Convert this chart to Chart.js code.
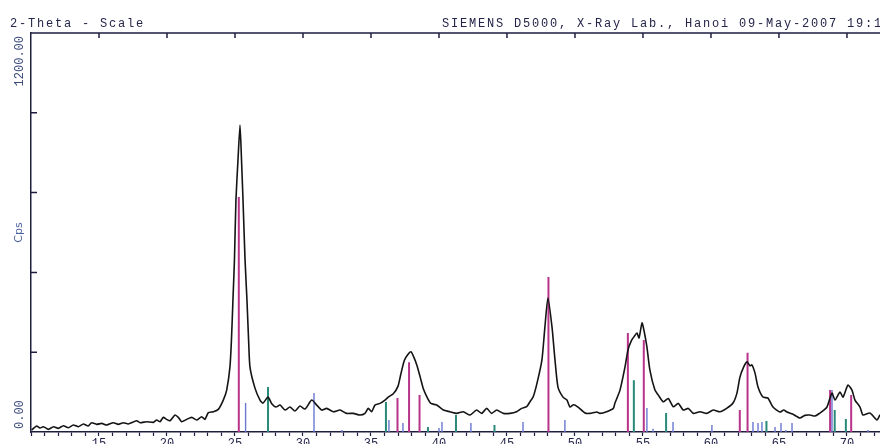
<!DOCTYPE html>
<html>
<head>
<meta charset="utf-8">
<script src="https://cdn.jsdelivr.net/npm/chart.js@4"></script>
<style>
  html, body { margin: 0; padding: 0; background: #fff; overflow: hidden; }
  canvas { display: block; }
</style>
</head>
<body>
<canvas id="chart" width="880" height="444"></canvas>
<script>
// measured pattern (2-theta in degrees, counts per second)
const twoTheta = [
  10.05, 10.42, 10.66, 10.91, 11.28, 11.65, 12.01, 12.38, 12.75, 13.11, 13.48, 13.85, 14.21, 14.46, 14.83,
  15.20, 15.57, 16.05, 16.42, 16.79, 17.15, 17.52, 17.77, 18.02, 18.51, 19.00, 19.24, 19.49, 19.73, 19.97,
  20.22, 20.59, 20.83, 21.08, 21.45, 21.82, 22.18, 22.55, 22.79, 23.04, 23.41, 23.77, 24.14, 24.39, 24.63,
  24.74, 24.85, 24.96, 25.07, 25.22, 25.37, 25.48, 25.59, 25.74, 25.88, 26.00, 26.10, 26.47, 26.84, 27.06,
  27.43, 27.72, 28.01, 28.31, 28.68, 29.04, 29.41, 29.78, 30.15, 30.64, 31.01, 31.38, 31.74, 32.23, 32.72,
  33.21, 33.70, 34.19, 34.56, 34.80, 35.05, 35.29, 35.66, 36.03, 36.27, 36.64, 36.99, 37.20, 37.45, 37.70,
  37.94, 38.15, 38.38, 38.62, 38.85, 39.12, 39.40, 39.83, 40.32, 40.81, 41.30, 41.79, 42.28, 42.77, 43.14,
  43.51, 43.87, 44.24, 44.73, 45.22, 45.71, 46.08, 46.45, 46.69, 46.93, 47.21, 47.57, 47.79, 48.01, 48.31,
  48.53, 48.75, 49.12, 49.41, 49.63, 49.90, 50.22, 50.74, 51.10, 51.62, 51.84, 52.33, 52.82, 52.94, 53.31,
  53.68, 53.90, 54.15, 54.40, 54.56, 54.71, 54.93, 55.10, 55.29, 55.51, 55.88, 56.13, 56.49, 56.86, 57.23,
  57.60, 57.96, 58.33, 58.70, 59.19, 59.68, 60.17, 60.66, 61.15, 61.62, 61.91, 62.13, 62.40, 62.65, 62.87,
  63.01, 63.24, 63.46, 63.82, 64.19, 64.56, 65.07, 65.35, 65.59, 66.00, 66.54, 66.90, 67.28, 67.65, 68.01,
  68.30, 68.53, 68.90, 69.12, 69.49, 69.71, 70.07, 70.37, 70.59, 70.96, 71.18, 71.69, 72.21, 72.43, 72.60
]
const counts = [
  6, 18, 12, 16, 8, 16, 11, 19, 13, 21, 16, 24, 18, 28, 23,
  26, 21, 28, 23, 28, 24, 30, 34, 28, 31, 29, 36, 31, 44, 38,
  34, 51, 44, 31, 38, 44, 36, 46, 38, 58, 61, 68, 96, 126, 196,
  277, 397, 517, 698, 818, 923, 818, 698, 517, 397, 277, 196, 132, 96, 87,
  105, 84, 75, 81, 66, 75, 63, 78, 69, 96, 81, 66, 71, 61, 66,
  56, 56, 51, 56, 71, 61, 81, 86, 96, 105, 115, 138, 175, 215, 232,
  241, 225, 200, 165, 130, 105, 86, 81, 66, 61, 56, 61, 51, 66, 56,
  71, 56, 66, 56, 56, 61, 71, 76, 91, 106, 147, 217, 316, 403, 316,
  217, 135, 105, 96, 75, 82, 75, 57, 56, 60, 56, 61, 71, 87, 126,
  196, 247, 275, 290, 298, 283, 328, 300, 256, 186, 126, 111, 91, 101, 76,
  86, 66, 71, 56, 61, 56, 66, 61, 71, 87, 117, 165, 195, 211, 199,
  202, 177, 135, 105, 102, 75, 60, 66, 60, 54, 42, 50, 51, 48, 57,
  66, 75, 117, 96, 120, 105, 141, 126, 96, 75, 51, 57, 36, 51, 45
]

// reference stick patterns
const anataseAngle = [25.28, 36.95, 37.80, 38.57, 48.05, 53.89, 55.06, 62.12, 62.69, 68.76, 70.31]
const anataseCps = [707, 102, 210, 111, 466, 298, 277, 66, 238, 126, 111]
const rutileAngle = [27.43, 36.10, 39.19, 41.25, 44.08, 54.33, 56.70, 64.08, 69.10, 69.92]
const rutileCps = [135, 90, 15, 51, 21, 156, 57, 33, 66, 39]
const brookiteAngle = [25.78, 30.81, 32.87, 36.32, 37.35, 40.00, 40.22, 42.35, 46.18, 49.26, 55.29, 55.74,
  57.21, 60.07, 63.09, 63.46, 63.75, 64.71, 65.15, 65.51, 65.96, 68.90, 71.54]
const brookiteCps = [87, 117, 6, 36, 27, 12, 30, 27, 30, 36, 72, 10,
  30, 21, 30, 27, 30, 15, 27, 6, 27, 126, 6]

const xLabelTicks = [15, 20, 25, 30, 35, 40, 45, 50, 55, 60, 65, 70]
const topTicks = [15, 20, 25, 30, 35, 40, 45, 50, 55, 60, 65, 70]
const yTicks = [240, 480, 720, 960]
const headerLeft = '2-Theta - Scale'
const headerRight = 'SIEMENS D5000, X-Ray Lab., Hanoi 09-May-2007 19:16'
const yTopLabel = '1200.00'
const yBottomLabel = '0.00'

const axisColor = '#1e1e40'
const mono = '"Liberation Mono", "DejaVu Sans Mono", monospace'

function sticks(angles, heights) {
  const pts = []
  angles.forEach((a, i) => {
    pts.push({ x: a, y: 0 }, { x: a, y: heights[i] }, { x: a, y: null })
  })
  return pts
}

const frame = {
  id: 'frame',
  afterDraw(chart) {
    const { ctx, chartArea: a, scales: { x, y } } = chart
    ctx.save()
    ctx.strokeStyle = axisColor
    ctx.lineWidth = 1.5
    ctx.beginPath()
    ctx.moveTo(a.left, a.top)
    ctx.lineTo(a.right, a.top)
    topTicks.forEach(v => {
      const px = x.getPixelForValue(v)
      ctx.moveTo(px, a.top)
      ctx.lineTo(px, a.top + 5)
    })
    yTicks.forEach(v => {
      const py = y.getPixelForValue(v)
      ctx.moveTo(a.left, py)
      ctx.lineTo(a.left + 6, py)
    })
    ctx.stroke()

    ctx.fillStyle = '#24244a'
    ctx.font = '12px ' + mono
    ctx.letterSpacing = '1.8px'
    ctx.textBaseline = 'alphabetic'
    ctx.textAlign = 'left'
    ctx.fillText(headerLeft, 10, 27)
    ctx.fillText(headerRight, 442, 27)

    ctx.letterSpacing = '0px'
    ctx.fillStyle = '#3a4a7a'
    ctx.textBaseline = 'middle'
    ctx.save()
    ctx.translate(20, y.getPixelForValue(1200) + 3)
    ctx.rotate(-Math.PI / 2)
    ctx.textAlign = 'right'
    ctx.fillText(yTopLabel, 0, 0)
    ctx.restore()
    ctx.save()
    ctx.translate(20, y.getPixelForValue(0) - 3)
    ctx.rotate(-Math.PI / 2)
    ctx.textAlign = 'left'
    ctx.fillText(yBottomLabel, 0, 0)
    ctx.restore()
    ctx.restore()
  }
}

const ctx = document.getElementById('chart').getContext('2d')
const myChart = new Chart(ctx, {
  type: 'line',
  data: {
    datasets: [{
      label: 'Sample',
      data: twoTheta.map((t, i) => ({ x: t, y: counts[i] })),
      borderColor: '#141414',
      borderWidth: 1.6,
      pointRadius: 0,
      tension: 0.2
    }, {
      label: 'Anatase',
      data: sticks(anataseAngle, anataseCps),
      borderColor: '#b8338a',
      borderWidth: 2,
      pointRadius: 0,
      spanGaps: false
    }, {
      label: 'Rutile',
      data: sticks(rutileAngle, rutileCps),
      borderColor: '#2a8a7a',
      borderWidth: 2,
      pointRadius: 0,
      spanGaps: false
    }, {
      label: 'Brookite',
      data: sticks(brookiteAngle, brookiteCps),
      borderColor: '#6a78d0',
      borderWidth: 1.4,
      pointRadius: 0,
      spanGaps: false
    }]
  },
  options: {
    responsive: false,
    animation: false,
    layout: { padding: { top: 33, left: 0, right: 0, bottom: 0 } },
    plugins: { legend: { display: false }, tooltip: { enabled: false } },
    scales: {
      x: {
        type: 'linear',
        min: 10,
        max: 72.43,
        border: { display: true, color: axisColor, width: 1.5 },
        grid: { drawOnChartArea: false, drawTicks: true, tickLength: 4, tickColor: axisColor, tickWidth: 1.2 },
        ticks: {
          stepSize: 1,
          includeBounds: false,
          autoSkip: false,
          maxRotation: 0,
          padding: 1,
          color: '#24244a',
          font: { family: mono, size: 12 },
          callback: v => xLabelTicks.includes(v) ? String(v) : ''
        },
        afterFit: s => { s.height = 12 }
      },
      y: {
        min: 0,
        max: 1200,
        border: { display: true, color: axisColor, width: 1.5 },
        grid: { display: false },
        ticks: { display: false },
        title: {
          display: true,
          text: 'Cps',
          color: '#4a5f9e',
          padding: { top: 13, bottom: 0 },
          font: { family: '"DejaVu Sans", sans-serif', size: 11 }
        },
        afterFit: s => { s.width = 31 }
      }
    }
  },
  plugins: [frame]
})
</script>
</body>
</html>
